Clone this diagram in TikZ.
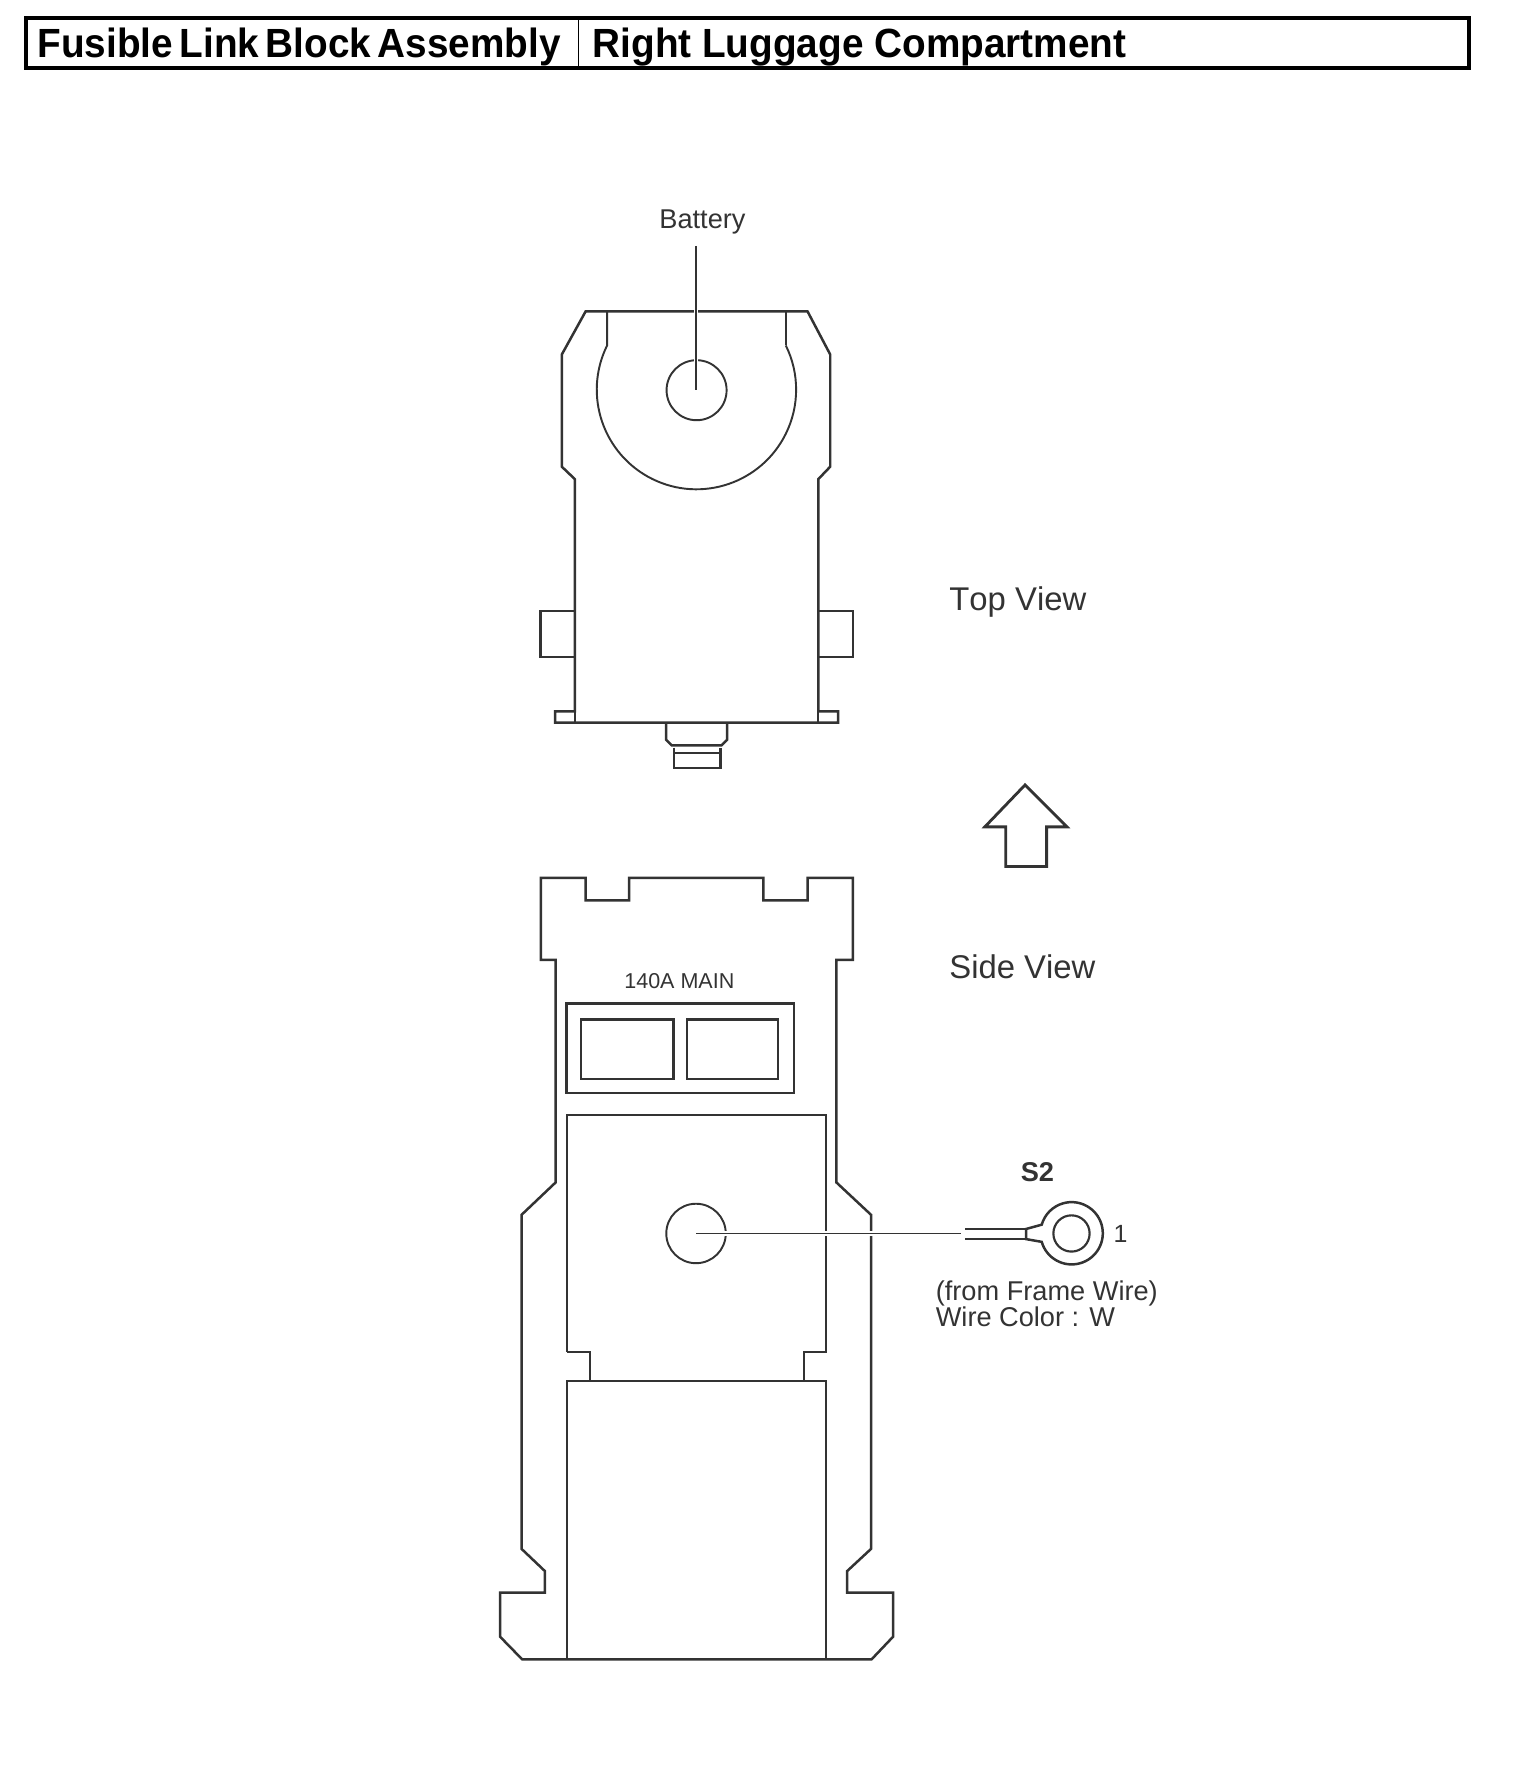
\documentclass[tikz,border=0pt]{standalone}
\usepackage{fontspec}
\setmainfont[Kerning=Off]{Liberation Sans}
\usetikzlibrary{calc}
\definecolor{ink}{gray}{0.2}
\tikzset{
  x=1pt,y=1pt,
  part/.style={draw=ink,line width=2.2pt,line join=miter},
  thin part/.style={draw=ink,line width=1.7pt},
  lead/.style={draw=ink,line width=1.4pt},
  halo/.style={draw=white,line width=4pt},
  frame/.style={draw=black,line width=3pt},
  lbl/.style={inner sep=0pt,text=ink,anchor=base west},
  head/.style={inner sep=0pt,anchor=base west,xscale=0.95,font=\fontsize{36}{36}\bfseries\selectfont},
}
\newcommand{\fs}[1]{\fontsize{#1}{#1}\selectfont}
\begin{document}
\begin{tikzpicture}
\useasboundingbox (0,0) rectangle (1342,-1568);
% header
\draw[frame] (23,-16) rectangle (1297,-60);
\draw[black,line width=1.2pt] (511,-16) -- (511,-61);
\node[head] (h1) at (33,-51) {\spaceskip=6pt Fusible Link Block Assembly};
\node[head] (h2) at (523,-51) {Right Luggage Compartment};
% top view outline
\draw[part] (517,-275) -- (496,-313) -- (496,-412) -- (507.5,-423) -- (507.5,-628) -- (490,-628) -- (490,-638) -- (740,-638) -- (740,-628) -- (722.5,-628) -- (722.5,-423) -- (733,-412) -- (733,-313) -- (713,-275) -- cycle;
\draw[part] (507.5,-539.5) -- (477,-539.5) -- (477,-580) -- (507.5,-580);
\draw[part] (722.5,-539.5) -- (753,-539.5) -- (753,-580) -- (722.5,-580);
\draw[thin part] (507.5,-628) -- (507.5,-638) (722.5,-628) -- (722.5,-638);
% bottom connector
\draw[part] (588,-638) -- (588,-653) -- (593,-658) -- (637,-658) -- (642,-653) -- (642,-638);
\draw[part] (595,-660) -- (595,-678) -- (636,-678) -- (636,-660);
\draw[thin part] (595,-665) -- (636,-665);
% big round recess
\draw[thin part] (536,-275) -- (536,-305) arc[start angle=153.7,end angle=386.3,radius=88];
\draw[thin part] (694,-305) -- (694,-275);
% battery stud
\node[circle,draw=ink,line width=1.7pt,minimum size=53pt,inner sep=0pt] (stud) at (615,-344.5) {};
\node[lbl,font=\fs{24}] (batt) at (582,-202) {Battery};
\coordinate (battend) at (614.5,-217);
\coordinate (studc) at (614.5,-344);
\draw[halo] (battend) -- (614.5,-325);
\draw[lead] (battend) -- (studc);
% labels
\node[lbl,font=\fs{29}] (tv) at (838,-539) {Top View};
\node[lbl,font=\fs{29}] (sv) at (838,-864) {Side View};
% arrow
\draw[part,line width=2.5pt] (905,-693) -- (942,-730) -- (924,-730) -- (924,-765) -- (888,-765) -- (888,-730) -- (869.5,-730) -- cycle;
% side view outline
\draw[part] (477.5,-775) -- (517,-775) -- (517,-795) -- (555.5,-795) -- (555.5,-775) -- (674,-775) -- (674,-795) -- (713,-795) -- (713,-775) -- (753,-775) -- (753,-847.5) -- (738.5,-847.5) -- (738.5,-1044) -- (769,-1072.5) -- (769,-1367.5) -- (748,-1387) -- (748,-1406) -- (788.5,-1406) -- (788.5,-1445) -- (769.5,-1465) -- (461,-1465) -- (441.5,-1445) -- (441.5,-1406) -- (481,-1406) -- (481,-1387) -- (460.5,-1367.5) -- (460.5,-1072.5) -- (490.5,-1044) -- (490.5,-847.5) -- (477.5,-847.5) -- cycle;
% fuse window
\node[lbl,font=\fs{19}] (fuse) at (551,-873) {140A MAIN};
\draw[part,line width=2.6pt] (500,-886) rectangle (701,-965);
\draw[part] (513,-900) rectangle (594.5,-952.5);
\draw[part] (606.5,-900) rectangle (687,-952.5);
% inner blocks
\draw[thin part] (500.5,-1193.5) -- (500.5,-984.5) -- (729,-984.5) -- (729,-1193.5) -- (709.5,-1193.5) -- (709.5,-1219.5);
\draw[thin part] (500.5,-1193.5) -- (520.5,-1193.5) -- (520.5,-1219.5);
\draw[thin part] (500.5,-1219.5) rectangle (729,-1465);
% bolt and wire
\node[circle,draw=ink,line width=1.7pt,minimum size=52.5pt,inner sep=0pt] (bolt) at (614.5,-1089) {};
\coordinate (boltc) at (614.5,-1089);
\coordinate (wireend) at (848,-1089);
\draw[halo] (632,-1089) -- (wireend);
\draw[lead] (boltc) -- (wireend);
% terminal
\node[lbl,font=\bfseries\fs{24}] (s2) at (901,-1043) {S2};
\draw[part,line width=2.4pt] (852,-1085) -- (906,-1085);
\draw[part,line width=1.9pt] (852,-1094) -- (906,-1094);
\draw[part] (906,-1085) -- (906,-1094) -- (919.7,-1096.4) arc[start angle=-164,end angle=164,radius=27.5] -- cycle;
\node[circle,draw=ink,line width=1.9pt,minimum size=32pt,inner sep=0pt] (ring) at (946,-1089) {};
\node[lbl,font=\fs{22}] (one) at (983,-1097) {1};
\node[lbl,font=\fs{24}] (w1) at (826,-1148) {(from Frame Wire)};
\node[lbl,font=\fs{24}] (w2) at (826,-1171) {Wire Color : W};
\end{tikzpicture}
\end{document}
